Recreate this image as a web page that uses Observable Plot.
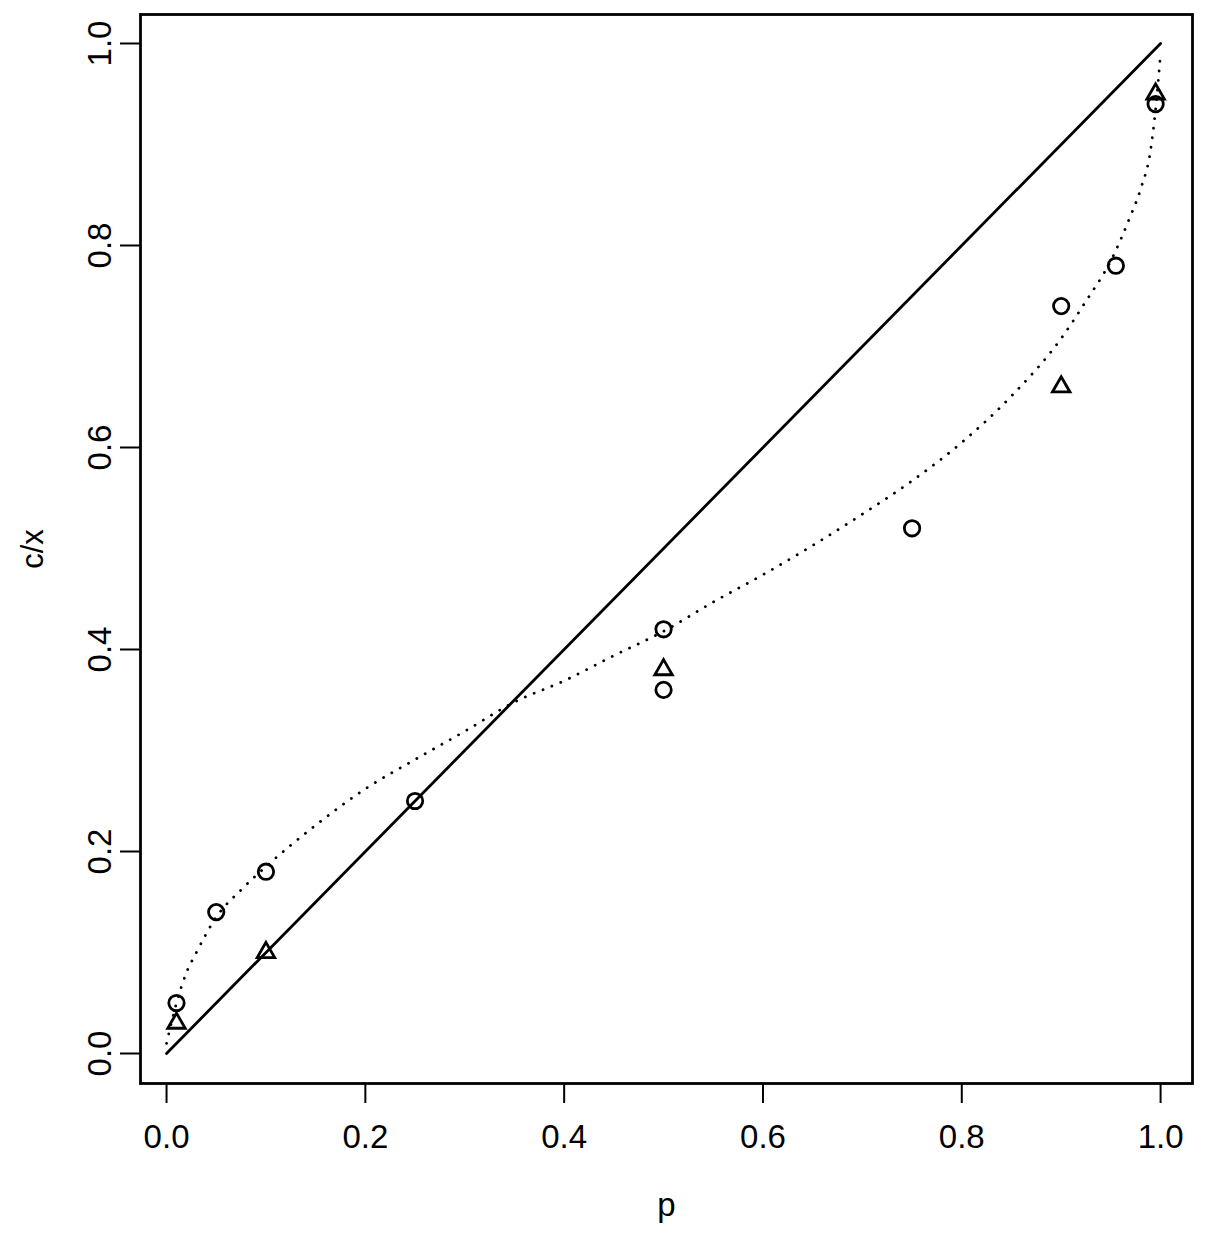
<!DOCTYPE html>
<html>
<head>
<meta charset="utf-8">
<script src="https://cdn.jsdelivr.net/npm/d3@7"></script>
<script src="https://cdn.jsdelivr.net/npm/@observablehq/plot@0.6"></script>
<style>
  html, body { margin: 0; padding: 0; background: #fff; }
  #chart svg { display: block; }
</style>
</head>
<body>
<div id="chart"></div>
<script>
// Observed ratios c/x against p, first series (circles)
const circleP  = [0.01, 0.05, 0.10, 0.25, 0.50, 0.50, 0.75, 0.90, 0.955, 0.995];
const circleCx = [0.05, 0.14, 0.18, 0.25, 0.42, 0.36, 0.52, 0.74, 0.78, 0.94];

// Second series (triangles)
const triangleP  = [0.01, 0.10, 0.50, 0.90, 0.995];
const triangleCx = [0.03, 0.10, 0.38, 0.66, 0.95];

// Fitted curve (dotted)
const fitP  = [0.0, 0.01, 0.02, 0.03, 0.05, 0.075, 0.10, 0.15, 0.20, 0.25, 0.30, 0.35, 0.40, 0.45, 0.50,
               0.55, 0.60, 0.65, 0.70, 0.75, 0.80, 0.85, 0.90, 0.925, 0.95, 0.97, 0.98, 0.99, 0.995, 1.0];
const fitCx = [0.01, 0.05, 0.08, 0.10, 0.135, 0.162, 0.185, 0.226, 0.262, 0.291, 0.319, 0.348, 0.369, 0.394, 0.418,
               0.447, 0.474, 0.503, 0.534, 0.567, 0.605, 0.651, 0.708, 0.745, 0.785, 0.83, 0.856, 0.895, 0.935, 0.99];

// Reference line c/x = p (solid)
const refP  = [0, 1];
const refCx = [0, 1];

// Axis ticks
const xTicks = [0, 0.2, 0.4, 0.6, 0.8, 1.0];
const yTicks = [0, 0.2, 0.4, 0.6, 0.8, 1.0];

const circles   = circleP.map((p, i) => ({p, cx: circleCx[i]}));
const triangles = triangleP.map((p, i) => ({p, cx: triangleCx[i]}));
const fit       = fitP.map((p, i) => ({p, cx: fitCx[i]}));
const ref       = refP.map((p, i) => ({p, cx: refCx[i]}));

const fmt = d3.format(".1f");
const font = "'Liberation Sans', Arial, Helvetica, sans-serif";

const chart = Plot.plot({
  width: 1212,
  height: 1244,
  marginLeft: 140,
  marginRight: 20,
  marginTop: 14,
  marginBottom: 161,
  style: {fontFamily: font, fontSize: "33px", color: "black", background: "white"},
  x: {domain: [-0.0262, 1.0321]},
  y: {domain: [-0.0297, 1.0287]},
  marks: [
    Plot.frame({stroke: "black", strokeWidth: 2.8}),
    Plot.axisX(xTicks, {tickSize: 20, tickPadding: 21, tickFormat: fmt, fontSize: 33, strokeWidth: 2, label: null}),
    Plot.axisY(yTicks, {tickSize: 20, tickFormat: () => "", strokeWidth: 2, label: null}),
    // rotated tick labels on the left, reading bottom to top
    Plot.text(yTicks, {y: d => d, text: d => fmt(d), frameAnchor: "left", dx: -40, rotate: -90,
                       textAnchor: "middle", lineAnchor: "middle", fontSize: 33}),
    Plot.text(["p"], {frameAnchor: "bottom", dy: 122, textAnchor: "middle", lineAnchor: "middle", fontSize: 33}),
    Plot.text(["c/x"], {frameAnchor: "left", dx: -107, rotate: -90, textAnchor: "middle", lineAnchor: "middle", fontSize: 31}),
    Plot.line(ref, {x: "p", y: "cx", stroke: "black", strokeWidth: 2.8}),
    Plot.line(fit, {x: "p", y: "cx", stroke: "black", strokeWidth: 2.8, strokeDasharray: "0.1,9.5",
                    strokeLinecap: "round", curve: "monotone-x"}),
    Plot.dot(circles, {x: "p", y: "cx", r: 7.7, symbol: "circle", stroke: "black", fill: "none", strokeWidth: 2.8}),
    Plot.dot(triangles, {x: "p", y: "cx", r: 6.5, symbol: "triangle", stroke: "black", fill: "none", strokeWidth: 2.8})
  ]
});

document.getElementById("chart").appendChild(chart);
</script>
</body>
</html>
